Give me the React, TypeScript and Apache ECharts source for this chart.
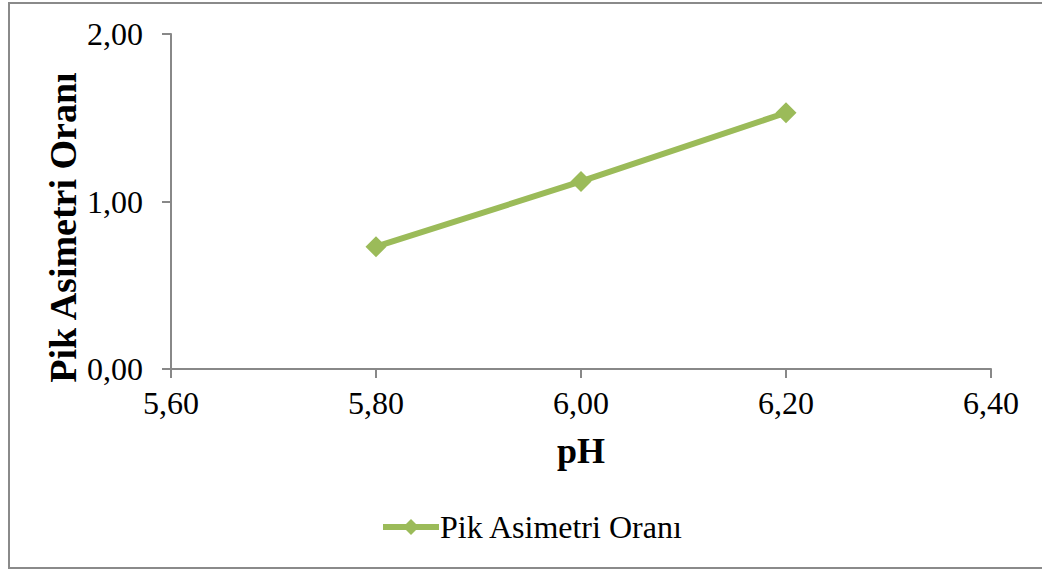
import React, { useEffect, useRef } from "react";
import * as echarts from "echarts";

const seriesName = "Pik Asimetri Oranı";
const phValues = [5.8, 6.0, 6.2];
const ratioValues = [0.73, 1.12, 1.53];
const xTitle = "pH";
const yTitle = "Pik Asimetri Oranı";

const fmt = (v: number) => v.toFixed(2).replace(".", ",");

export default function App() {
  const ref = useRef<HTMLDivElement>(null);
  useEffect(() => {
    if (!ref.current) return;
    const chart = echarts.init(ref.current, null, { renderer: "svg" });
    const font = "Liberation Serif";
    chart.setOption({
      animation: false,
      backgroundColor: "#ffffff",
      textStyle: { fontFamily: font, fontSize: 32 },
      graphic: [
        {
          type: "rect",
          shape: { x: 9, y: 3, width: 1060, height: 565 },
          style: { fill: "none", stroke: "#8a8a8a", lineWidth: 2 },
          silent: true,
        },
      ],
      grid: { left: 171, right: 51, top: 34, bottom: 200, containLabel: false },
      xAxis: {
        type: "value",
        min: 5.6,
        max: 6.4,
        interval: 0.2,
        name: xTitle,
        nameLocation: "middle",
        nameGap: 64,
        nameMoveOverlap: false,
        nameTextStyle: { fontFamily: font, fontSize: 36, fontWeight: "bold", color: "#000" },
        axisLine: { show: true, onZero: false, lineStyle: { color: "#888888", width: 2 } },
        axisTick: { show: true, length: 9, lineStyle: { color: "#888888", width: 2 } },
        axisLabel: { formatter: (v: number) => fmt(v), fontFamily: font, fontSize: 32, color: "#000", margin: 18 },
        splitLine: { show: false },
      },
      yAxis: {
        type: "value",
        min: 0,
        max: 2,
        interval: 1,
        name: yTitle,
        nameLocation: "middle",
        nameGap: 89,
        nameRotate: 90,
        nameMoveOverlap: false,
        nameTextStyle: {
          fontFamily: font,
          fontSize: 38,
          fontWeight: "bold",
          color: "#000",
          padding: [0, 52, 0, 0],
        },
        axisLine: { show: true, lineStyle: { color: "#888888", width: 2 } },
        axisTick: { show: true, length: 9, lineStyle: { color: "#888888", width: 2 } },
        axisLabel: { formatter: (v: number) => fmt(v), fontFamily: font, fontSize: 32, color: "#000", margin: 28 },
        splitLine: { show: false },
      },
      legend: {
        show: true,
        left: 380,
        top: 511,
        padding: 0,
        itemWidth: 56,
        itemHeight: 20,
        itemGap: 4,
        lineStyle: { width: 6 },
        textStyle: { fontFamily: font, fontSize: 32, color: "#000", padding: [0, 0, 0, -4] },
        data: [seriesName],
      },
      series: [
        {
          name: seriesName,
          type: "line",
          data: phValues.map((x, i) => [x, ratioValues[i]]),
          symbol: "diamond",
          symbolSize: 21,
          lineStyle: { color: "#9BBB59", width: 6 },
          itemStyle: { color: "#9BBB59" },
        },
      ],
    });
    return () => chart.dispose();
  }, []);
  return (
    <div
      ref={ref}
      style={{ position: "fixed", left: 0, top: 0, width: 1042, height: 569 }}
    />
  );
}
